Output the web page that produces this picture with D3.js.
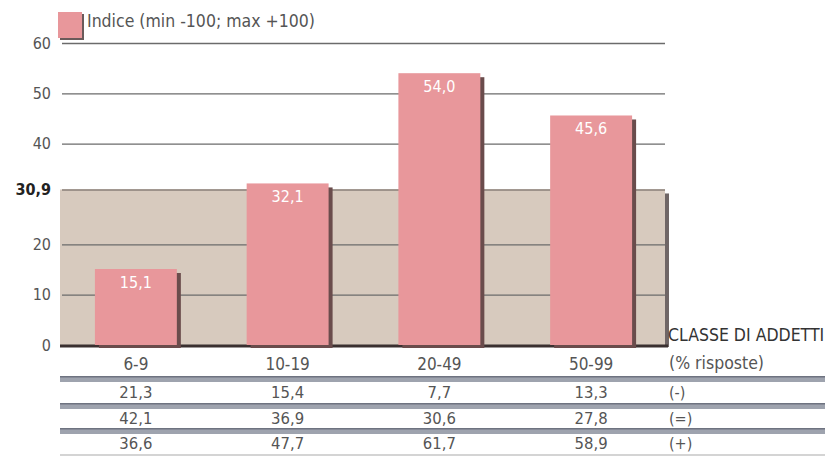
<!DOCTYPE html>
<html>
<head>
<meta charset="utf-8">
<script src="https://cdn.jsdelivr.net/npm/d3@7"></script>
<style>
  html, body { margin: 0; padding: 0; background: #fff; }
  svg text { font-family: "Liberation Sans Narrow", "DejaVu Sans Condensed", "Arial Narrow", sans-serif; }
</style>
</head>
<body>
<svg id="chart" width="825" height="456"></svg>
<script>
// Indice per classe di addetti
const categories = ["6-9", "10-19", "20-49", "50-99"];
const indexValues = [15.1, 32.1, 54.0, 45.6];
const average = 30.9;
const yTicks = [0, 10, 20, 30.9, 40, 50, 60];
const legendLabel = "Indice (min -100; max +100)";

// Tabella delle risposte (%)
const rowLabels = ["(-)", "(=)", "(+)"];
const answersMinus = [21.3, 15.4, 7.7, 13.3];
const answersEqual = [42.1, 36.9, 30.6, 27.8];
const answersPlus = [36.6, 47.7, 61.7, 58.9];
const tableRows = [answersMinus, answersEqual, answersPlus];

const fmt = v => d3.format(".1f")(v).replace(".", ",");

const svg = d3.select("#chart");
const left = 60, right = 667;
const x = d3.scaleBand().domain(categories).range([left, right])
  .paddingInner(0.46).paddingOuter(0.23);
const y = d3.scaleLinear().domain([0, 60]).range([345, 43]);

const pink = "#e8979b", beige = "#d7cabe", shadow = "#6a4c4c", grid = "#6b6b6b";

// Fascia della media
svg.append("rect").attr("x", left + 4).attr("y", y(average) + 4)
  .attr("width", 665 - left).attr("height", y(0) - y(average) - 2).attr("fill", "#6f6666");
svg.append("rect").attr("x", left).attr("y", y(average))
  .attr("width", 665 - left).attr("height", y(0) - y(average)).attr("fill", beige);

// Griglia
const gridTicks = yTicks.filter(t => t !== average && t !== 0);
svg.append("g").selectAll("line").data(gridTicks).join("line")
  .attr("x1", left + 2).attr("x2", 665)
  .attr("y1", d => y(d) + 0.5).attr("y2", d => y(d) + 0.5)
  .attr("stroke", grid).attr("stroke-width", 1.4);
svg.append("line").attr("x1", left + 2).attr("x2", 665)
  .attr("y1", y(average) + 0.5).attr("y2", y(average) + 0.5)
  .attr("stroke", "#8a7f78").attr("stroke-width", 1.6);

// Asse dello zero
svg.append("line").attr("x1", left).attr("x2", 668)
  .attr("y1", y(0) + 1).attr("y2", y(0) + 1)
  .attr("stroke", "#3a3030").attr("stroke-width", 3);

// Barre con ombra
const bars = svg.append("g");
bars.selectAll("rect.sh").data(indexValues).join("rect").attr("class", "sh")
  .attr("x", (d, i) => x(categories[i]) + 4).attr("y", d => y(d) + 4)
  .attr("width", x.bandwidth()).attr("height", d => y(0) - y(d) - 1)
  .attr("fill", shadow);
bars.selectAll("rect.bar").data(indexValues).join("rect").attr("class", "bar")
  .attr("x", (d, i) => x(categories[i])).attr("y", d => y(d))
  .attr("width", x.bandwidth()).attr("height", d => y(0) - y(d))
  .attr("fill", pink);
bars.selectAll("text").data(indexValues).join("text")
  .attr("x", (d, i) => x(categories[i]) + x.bandwidth() / 2)
  .attr("y", d => y(d) + 19)
  .attr("text-anchor", "middle").attr("fill", "#fff").attr("font-size", 16)
  .text(d => fmt(d));

// Etichette asse y
const yAxis = d3.axisLeft(y).tickValues(yTicks).tickSize(0).tickPadding(0)
  .tickFormat(d => d === average ? fmt(d) : d3.format("d")(d));
const gy = svg.append("g").attr("transform", "translate(51,0)").call(yAxis);
gy.select(".domain").remove();
gy.selectAll("text").attr("font-size", 16)
  .attr("font-family", "'Liberation Sans Narrow', 'DejaVu Sans Condensed', sans-serif")
  .attr("font-weight", d => d === average ? "bold" : "normal")
  .attr("fill", d => d === average ? "#222" : "#555");

// Legenda
svg.append("rect").attr("x", 60).attr("y", 14).attr("width", 24).attr("height", 26).attr("fill", "#6a5a5a");
svg.append("rect").attr("x", 58).attr("y", 12).attr("width", 24).attr("height", 26).attr("fill", pink);
svg.append("text").attr("x", 87).attr("y", 27).attr("font-size", 17.5).attr("fill", "#555")
  .text(legendLabel);

// Tabella
const rowY = [363, 392, 418, 443];
const bandY = [376, 403, 428];
bandY.forEach(by => {
  svg.append("rect").attr("x", left).attr("y", by).attr("width", 825 - left).attr("height", 6).attr("fill", "#9ea3ae");
  svg.append("rect").attr("x", left).attr("y", by).attr("width", 825 - left).attr("height", 1.5).attr("fill", "#6e7380");
});
svg.append("line").attr("x1", left).attr("x2", 825).attr("y1", 455).attr("y2", 455)
  .attr("stroke", "#aaa").attr("stroke-width", 1.2);

const xAxis = d3.axisBottom(x).tickSize(0).tickPadding(0);
const gx = svg.append("g").attr("transform", `translate(0,${rowY[0] - 5})`).call(xAxis);
gx.select(".domain").remove();
gx.selectAll("text").attr("font-size", 17).attr("fill", "#555")
  .attr("font-family", "'Liberation Sans Narrow', 'DejaVu Sans Condensed', sans-serif");

tableRows.forEach((row, r) => {
  svg.append("g").selectAll("text").data(row).join("text")
    .attr("x", (d, i) => x(categories[i]) + x.bandwidth() / 2)
    .attr("y", rowY[r + 1] + 6)
    .attr("text-anchor", "middle").attr("font-size", 16.5).attr("fill", "#555")
    .text(d => fmt(d));
  svg.append("text").attr("x", 669).attr("y", rowY[r + 1] + 6)
    .attr("font-size", 16).attr("fill", "#555").text(rowLabels[r]);
});

svg.append("text").attr("x", 668).attr("y", 341).attr("font-size", 17.5).attr("fill", "#333")
  .text("CLASSE DI ADDETTI");
svg.append("text").attr("x", 669).attr("y", rowY[0] + 6).attr("font-size", 17.5).attr("fill", "#555")
  .text("(% risposte)");
</script>
</body>
</html>
